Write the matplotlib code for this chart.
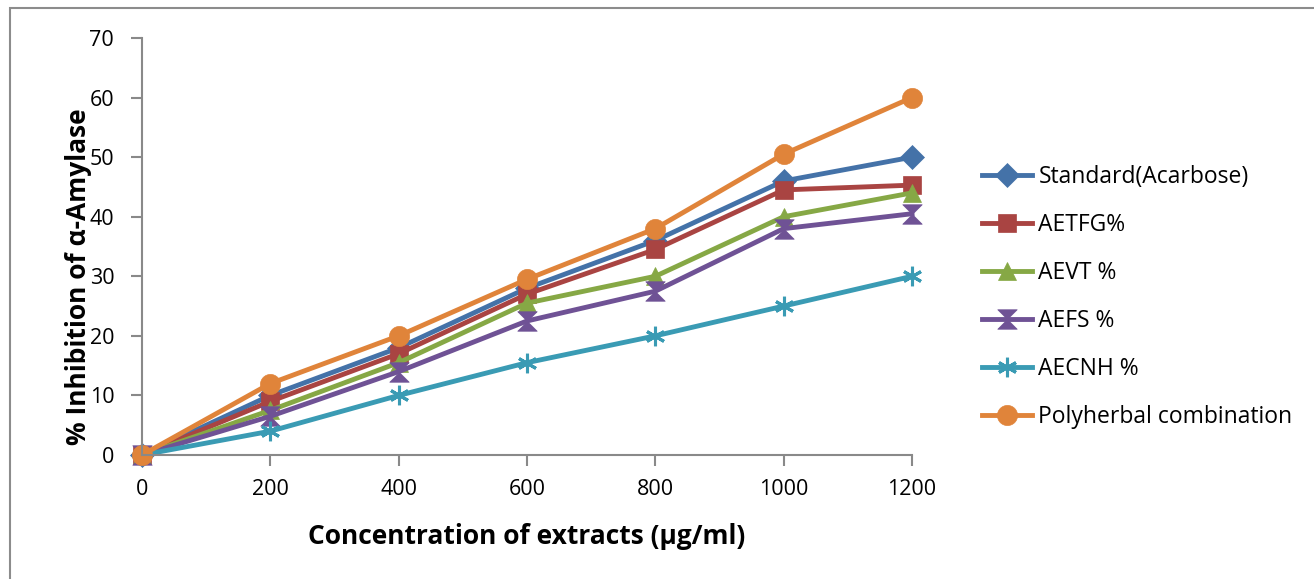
import matplotlib
matplotlib.use('Agg')
import matplotlib.pyplot as plt
from matplotlib.path import Path
from matplotlib.patches import Rectangle

plt.rcParams['font.family'] = ['Open Sans', 'DejaVu Sans']

# данні
conc = [0, 200, 400, 600, 800, 1000, 1200]
standard = [0, 10, 18, 28, 36, 46, 50]
aetfg = [0, 9, 17, 27, 34.5, 44.5, 45.3]
aevt = [0, 7.5, 15.5, 25.5, 30, 40, 44]
aefs = [0, 6.5, 14, 22.5, 27.5, 38, 40.5]
aecnh = [0, 4, 10, 15.5, 20, 25, 30]
poly = [0, 12, 20, 29.5, 38, 50.5, 60]

labels = ['Standard(Acarbose)', 'AETFG%', 'AEVT %', 'AEFS %', 'AECNH %',
          'Polyherbal combination']

# маркер "пісочний годинник"
hourglass = Path([(-1, 1), (1, 1), (0, 0), (1, -1), (-1, -1), (0, 0), (-1, 1)],
                 [Path.MOVETO, Path.LINETO, Path.LINETO, Path.LINETO,
                  Path.LINETO, Path.LINETO, Path.CLOSEPOLY])

series = [
    (standard, '#4472a8', 'D', 12),
    (aetfg, '#a94442', 's', 13),
    (aevt, '#86a845', '^', 13.5),
    (aefs, '#6f5295', hourglass, 14),
    (aecnh, '#3a9bb4', (6, 2, 0), 14),
    (poly, '#e0843a', 'o', 14.5),
]

fig = plt.figure(figsize=(13.14, 5.79), dpi=100)
ax = fig.add_axes([142 / 1314, 1 - 455 / 579, (912 - 142) / 1314, (455 - 38) / 579])

for (vals, col, mk, ms), lab in zip(series, labels):
    ax.plot(conc, vals, color=col, linewidth=3.5, marker=mk, markersize=ms,
            markeredgewidth=2.2 if mk == (6, 2, 0) else 0.5,
            markeredgecolor=col, label=lab, clip_on=False)

ax.set_xlim(0, 1200)
ax.set_ylim(0, 70)
ax.set_xticks(conc)
ax.set_yticks(range(0, 71, 10))
for s in ['top', 'right']:
    ax.spines[s].set_visible(False)
for s in ['left', 'bottom']:
    ax.spines[s].set_color('#898989')
    ax.spines[s].set_linewidth(1.5)
ax.tick_params(colors='#898989', width=1.5, length=8, labelsize=15.5, labelcolor='black')
ax.tick_params(axis='x', pad=9)
ax.tick_params(axis='y', pad=12)

ax.set_xlabel('Concentration of extracts (µg/ml)', fontsize=19, fontweight='bold')
ax.set_ylabel('% Inhibition of α-Amylase', fontsize=19, fontweight='bold')
ax.xaxis.set_label_coords(0.5, -0.164)
ax.yaxis.set_label_coords(-0.065, 0.427)

leg = ax.legend(loc='center left', bbox_to_anchor=(1.091, 0.379), frameon=False,
                fontsize=16.5, handlelength=2.2, labelspacing=1.04, handletextpad=0.26,
                borderaxespad=0, borderpad=0)

# рамка
fig.patches.append(Rectangle((10 / 1314, -0.1), 1.2, 1.1 - 8 / 579, transform=fig.transFigure,
                             fill=False, edgecolor='#8c8c8c', linewidth=1.5))

fig.savefig('out.png', dpi=100)
